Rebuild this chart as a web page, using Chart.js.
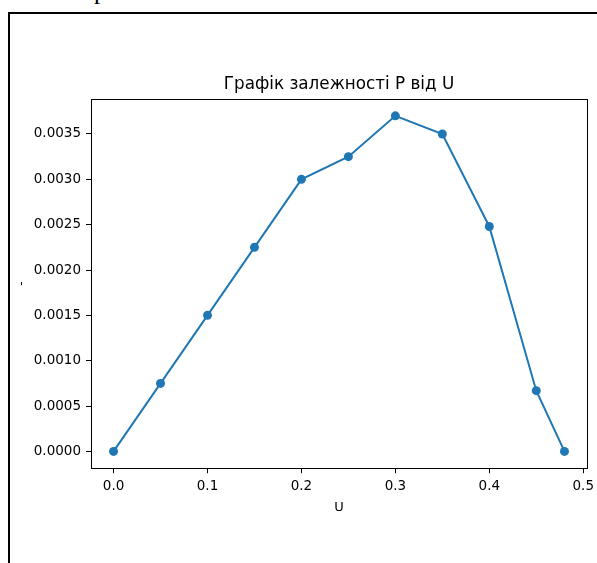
<!DOCTYPE html>
<html>
<head>
<meta charset="utf-8">
<script src="https://cdn.jsdelivr.net/npm/chart.js@4/dist/chart.umd.min.js"></script>
<style>
  html, body { margin: 0; padding: 0; background: #fff; overflow: hidden; }
  #frame { position: absolute; left: 8px; top: 12px; width: 589px; height: 551px;
           border-top: 2px solid #000; border-left: 2px solid #000; box-sizing: border-box; }
  #head { position: absolute; left: 94px; top: -22px; font: 25px/25px "Liberation Serif", serif; color: #000; }
  #wrap { position: absolute; left: 0; top: 0; width: 597px; height: 563px; }
</style>
</head>
<body>
<div id="head">р</div>
<div id="frame"></div>
<div id="wrap"><canvas id="chart" width="597" height="563"></canvas></div>
<script>
const uValues = [0, 0.05, 0.1, 0.15, 0.2, 0.25, 0.3, 0.35, 0.4, 0.45, 0.48];
const pValues = [0, 0.00075, 0.0015, 0.00225, 0.0030, 0.00325, 0.0037, 0.0035, 0.00248, 0.00067, 0];
const chartTitle = "Графік залежності P від U";

Chart.defaults.font.family = "'DejaVu Sans', sans-serif";
Chart.defaults.color = "#000";

// matplotlib style closed box round the plot area
const boxPlugin = {
  id: "box",
  afterDraw(chart) {
    const a = chart.chartArea, ctx = chart.ctx;
    ctx.save();
    ctx.strokeStyle = "#000";
    ctx.lineWidth = 1;
    ctx.strokeRect(Math.round(a.left) + 0.5, Math.round(a.top) + 0.5,
      Math.round(a.right - a.left), Math.round(a.bottom - a.top));
    ctx.restore();
  }
};

new Chart(document.getElementById("chart"), {
  type: "line",
  data: {
    datasets: [{
      data: uValues.map((u, i) => ({ x: u, y: pValues[i] })),
      borderColor: "#1f77b4",
      backgroundColor: "#1f77b4",
      borderWidth: 2,
      pointRadius: 4.5,
      pointHoverRadius: 4.5,
      pointBorderWidth: 0,
      tension: 0
    }]
  },
  options: {
    responsive: false,
    animation: false,
    layout: { padding: { left: 14, right: 10, top: 0, bottom: 45 } },
    plugins: {
      legend: { display: false },
      tooltip: { enabled: false },
      title: {
        display: true,
        fullSize: false,
        text: chartTitle,
        font: { size: 16.8, weight: "normal" },
        color: "#000",
        padding: { top: 75, bottom: 3.9 }
      }
    },
    scales: {
      x: {
        type: "linear",
        min: -0.024,
        max: 0.504,
        afterFit: s => { s.paddingLeft = 0; s.paddingRight = 0; },
        grid: { drawOnChartArea: false, drawTicks: true, tickLength: 5, color: "#000" },
        border: { color: "#000", width: 1 },
        ticks: {
          stepSize: 0.1,
          includeBounds: false,
          padding: 5,
          font: { size: 13.5 },
          color: "#000",
          callback: v => v.toFixed(1)
        },
        title: { display: true, text: "U", font: { size: 13 }, color: "#000", padding: { top: 0, bottom: 3 } }
      },
      y: {
        type: "linear",
        min: -0.000185,
        max: 0.003885,
        afterFit: s => { s.width = 77; },
        grid: { drawOnChartArea: false, drawTicks: true, tickLength: 5, color: "#000" },
        border: { color: "#000", width: 1 },
        ticks: {
          stepSize: 0.0005,
          includeBounds: false,
          padding: 5,
          font: { size: 13.5 },
          color: "#000",
          callback: v => v.toFixed(4)
        },
        title: { display: true, text: "-", font: { size: 13 }, color: "#000", padding: 0 }
      }
    }
  },
  plugins: [boxPlugin]
});
</script>
</body>
</html>
